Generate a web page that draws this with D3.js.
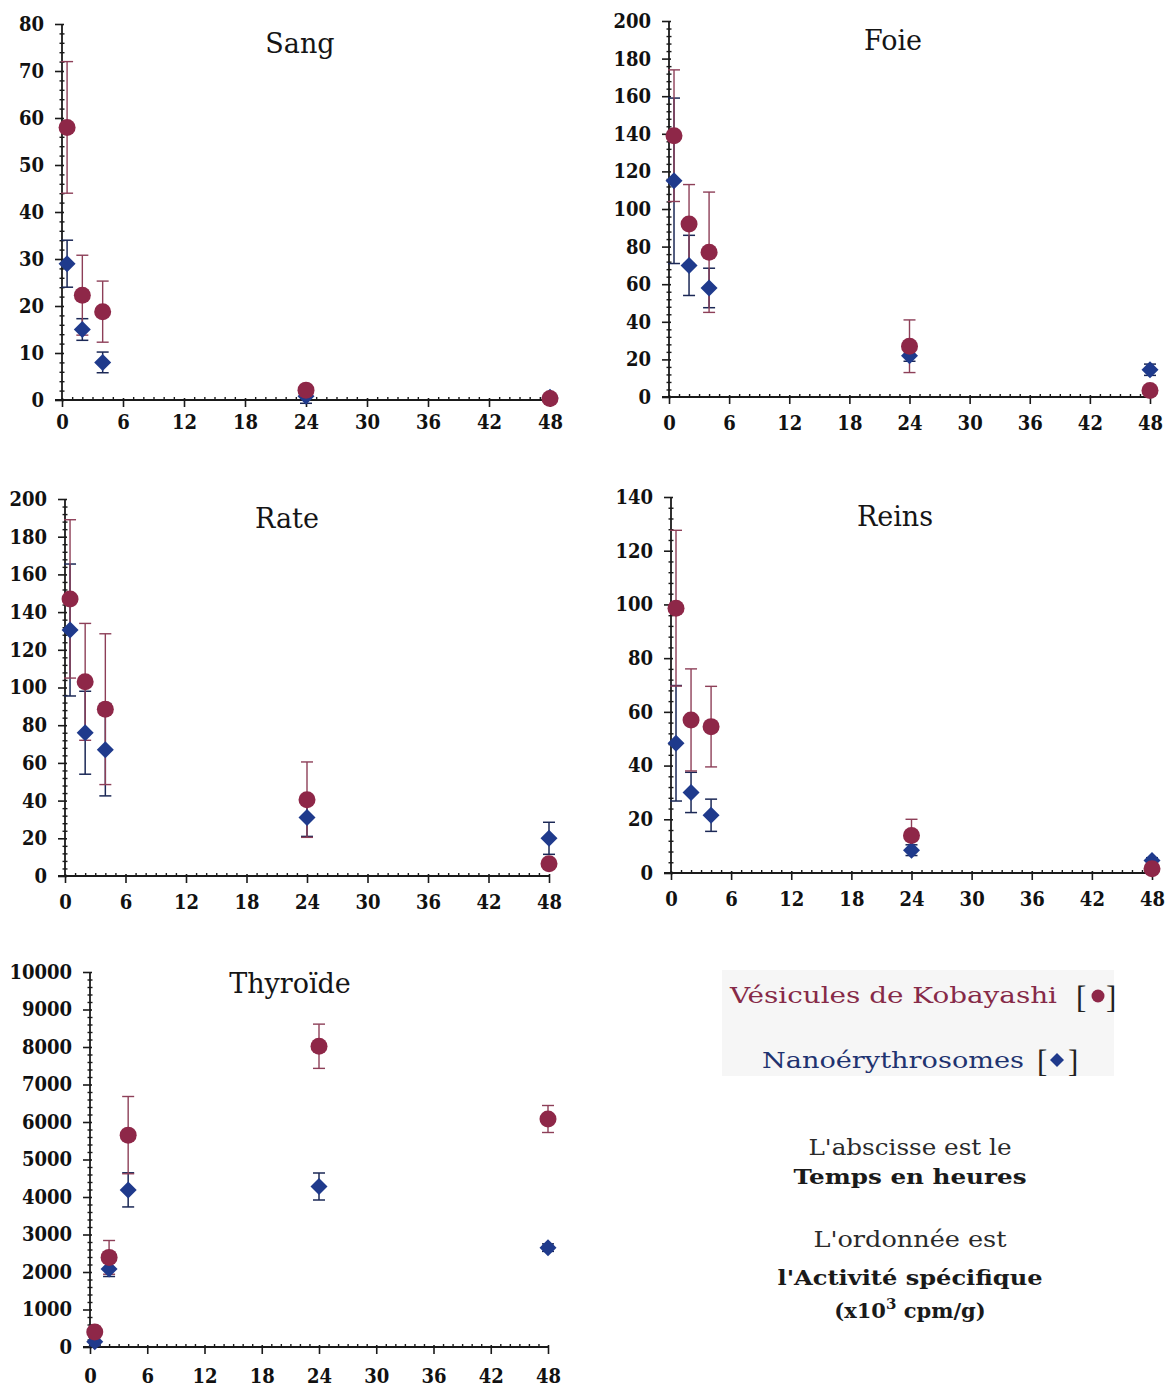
<!DOCTYPE html>
<html lang="fr">
<head>
<meta charset="utf-8">
<title>Biodistribution</title>
<script src="https://cdn.jsdelivr.net/npm/d3@7/dist/d3.min.js"></script>
<style>
  html, body { margin: 0; padding: 0; background: #fff; }
  svg { display: block; }
  .serif { font-family: "Liberation Serif", Tinos, "Times New Roman", Times, serif; }
  .cond { font-family: "DejaVu Serif Condensed", "Liberation Serif", serif; font-stretch: condensed; }
  .wide { font-family: "DejaVu Serif", serif; }
</style>
</head>
<body>
<svg id="chart" width="1171" height="1388"></svg>
<script>
// Sampling times (hours) and organs
const hours = [0.5, 2, 4, 24, 48];
const organs = ["Sang", "Foie", "Rate", "Reins", "Thyroïde"];
const xTicks = [0, 6, 12, 18, 24, 30, 36, 42, 48];
const yMax = [80, 200, 200, 140, 10000];
const yStep = [10, 20, 20, 20, 1000];

// Specific activity (x10^3 cpm/g), mean and error, one row per organ
const kobayashiMean = [
  [58, 22.3, 18.8, 2.1, 0.3],
  [139, 92, 77, 27, 3.5],
  [147, 103, 88.5, 40.5, 6.5],
  [98.6, 57, 54.5, 14, 1.6],
  [400, 2390, 5650, 8020, 6080]
];
const kobayashiErr = [
  [14, 8.5, 6.5, 0.5, 0.2],
  [35, 21, 32, 14, 1],
  [42, 31, 40, 20, 2],
  [29, 19, 15, 6, 1],
  [150, 450, 1030, 590, 360]
];
const nanoMean = [
  [29, 15, 8, 0.8, 0.6],
  [115, 70, 58, 22, 14.5],
  [130.5, 76, 67, 31, 20],
  [48.3, 30, 21.5, 8.5, 4.7],
  [140, 2080, 4190, 4280, 2650]
];
const nanoErr = [
  [5, 2.3, 2.2, 1.5, 0.3],
  [44, 16, 10.5, 3, 3],
  [35, 22, 24.5, 10, 8.5],
  [21.5, 7.5, 6, 2, 1],
  [120, 200, 455, 360, 100]
];

// Panel frames on the page
const panels = [
  { left: 62,  right: 550,  top: 24,  bottom: 400,  tx: 300, ty: 53,  lab: 30 },
  { left: 669, right: 1150, top: 21,  bottom: 397,  tx: 893, ty: 50,  lab: 34 },
  { left: 65,  right: 549,  top: 499, bottom: 876,  tx: 287, ty: 528, lab: 34 },
  { left: 671, right: 1152, top: 497, bottom: 873,  tx: 895, ty: 526, lab: 34 },
  { left: 90,  right: 548,  top: 972, bottom: 1347, tx: 290, ty: 993, lab: 37 }
];

const RED = "#8e2748";
const RED_BAR = "#8d3f58";
const BLUE = "#1f3a8c";
const BLUE_BAR = "#1b2856";
const AXIS = "#1a1a1a";

const svg = d3.select("#chart");

function diamondPath(cx, cy, r) {
  return `M${cx},${cy - r}L${cx + r},${cy}L${cx},${cy + r}L${cx - r},${cy}Z`;
}

function styleTicks(sel) {
  sel.selectAll(".tick text")
    .attr("class", "cond")
    .attr("font-weight", "bold").attr("font-size", 20)
    .attr("fill", "#111");
}

organs.forEach((organ, i) => {
  const p = panels[i];
  const x = d3.scaleLinear().domain([0, 48]).range([p.left, p.right]);
  const y = d3.scaleLinear().domain([0, yMax[i]]).range([p.bottom, p.top]);
  const g = svg.append("g").attr("class", "panel");

  const yMajor = d3.range(0, yMax[i] + yStep[i] / 2, yStep[i]);
  const yMinor = d3.range(0, yMax[i] + 1e-9, yStep[i] / 5).filter(v => !yMajor.some(m => Math.abs(m - v) < 1e-9));
  const xMinor = d3.range(0, 49, 1).filter(v => v % 6 !== 0);

  // minor ticks (both axes)
  const yMin = g.append("g").attr("transform", `translate(${p.left},0)`)
    .call(d3.axisLeft(y).tickValues(yMinor).tickSize(2.5).tickSizeOuter(0).tickFormat(""));
  yMin.select(".domain").remove();
  yMin.selectAll(".tick line").attr("x1", 2.5).attr("stroke", AXIS).attr("stroke-width", 1.4);

  const xMin = g.append("g").attr("transform", `translate(0,${p.bottom})`)
    .call(d3.axisBottom(x).tickValues(xMinor).tickSize(0).tickSizeOuter(0).tickFormat(""));
  xMin.select(".domain").remove();
  xMin.selectAll(".tick line").attr("y1", -3).attr("y2", 0).attr("stroke", AXIS).attr("stroke-width", 1.4);

  // major y axis
  const yAx = g.append("g").attr("transform", `translate(${p.left},0)`)
    .call(d3.axisLeft(y).tickValues(yMajor).tickSize(7).tickSizeOuter(0).tickPadding(11).tickFormat(d3.format("d")));
  yAx.attr("font-family", null);
  yAx.select(".domain").attr("stroke", AXIS).attr("stroke-width", 1.8)
    .attr("d", `M0,${y(yMax[i])}V${y(0)}`);
  yAx.selectAll(".tick line").attr("x1", 2).attr("stroke", AXIS).attr("stroke-width", 1.6);
  styleTicks(yAx);

  // major x axis
  const xAx = g.append("g").attr("transform", `translate(0,${p.bottom})`)
    .call(d3.axisBottom(x).tickValues(xTicks).tickSize(7).tickSizeOuter(0).tickPadding(p.lab - 22).tickFormat(d3.format("d")));
  xAx.attr("font-family", null);
  xAx.select(".domain").attr("stroke", AXIS).attr("stroke-width", 1.8)
    .attr("d", `M${x(0) - 7},0H${x(48)}`);
  xAx.selectAll(".tick line").attr("y1", -2).attr("stroke", AXIS).attr("stroke-width", 1.6);
  styleTicks(xAx);

  // panel title
  g.append("text")
    .attr("class", "wide")
    .attr("x", p.tx).attr("y", p.ty)
    .attr("text-anchor", "middle")
    .attr("font-size", 27)
    .attr("fill", "#151515")
    .text(organ);

  const kob = hours.map((h, k) => ({ h, m: kobayashiMean[i][k], e: kobayashiErr[i][k] }));
  const nano = hours.map((h, k) => ({ h, m: nanoMean[i][k], e: nanoErr[i][k] }));

  // error bars
  function errorBars(data, color, width) {
    const eb = g.append("g");
    eb.selectAll("line.stem").data(data).join("line")
      .attr("x1", d => x(d.h)).attr("x2", d => x(d.h))
      .attr("y1", d => y(d.m - d.e)).attr("y2", d => y(d.m + d.e))
      .attr("stroke", color).attr("stroke-width", width);
    eb.selectAll("line.capT").data(data).join("line")
      .attr("x1", d => x(d.h) - 6).attr("x2", d => x(d.h) + 6)
      .attr("y1", d => y(d.m + d.e)).attr("y2", d => y(d.m + d.e))
      .attr("stroke", color).attr("stroke-width", width);
    eb.selectAll("line.capB").data(data).join("line")
      .attr("x1", d => x(d.h) - 6).attr("x2", d => x(d.h) + 6)
      .attr("y1", d => y(d.m - d.e)).attr("y2", d => y(d.m - d.e))
      .attr("stroke", color).attr("stroke-width", width);
  }
  errorBars(nano, BLUE_BAR, 1.5);
  errorBars(kob, RED_BAR, 1.4);

  // Nanoérythrosomes: diamonds
  g.append("g").selectAll("path").data(nano).join("path")
    .attr("d", d => diamondPath(x(d.h), y(d.m), 8.5))
    .attr("fill", BLUE);

  // Vésicules de Kobayashi: circles
  g.append("g").selectAll("circle").data(kob).join("circle")
    .attr("cx", d => x(d.h)).attr("cy", d => y(d.m)).attr("r", 8.5)
    .attr("fill", RED);
});

// Legend
const lg = svg.append("g").attr("class", "legend");
lg.append("rect").attr("x", 722).attr("y", 970).attr("width", 392).attr("height", 106).attr("fill", "#f6f6f6");
lg.append("text").attr("class", "wide").attr("x", 730).attr("y", 1003)
  .attr("textLength", 327).attr("lengthAdjust", "spacingAndGlyphs")
  .attr("font-size", 23).attr("fill", "#862a48")
  .text("Vésicules de Kobayashi");
lg.append("text").attr("class", "serif").attr("x", 1076).attr("y", 1008)
  .attr("font-size", 31).attr("fill", "#222").text("[");
lg.append("circle").attr("cx", 1098).attr("cy", 996).attr("r", 6.5).attr("fill", RED);
lg.append("text").attr("class", "serif").attr("x", 1106).attr("y", 1008)
  .attr("font-size", 31).attr("fill", "#222").text("]");

lg.append("text").attr("class", "wide").attr("x", 762).attr("y", 1068)
  .attr("textLength", 262).attr("lengthAdjust", "spacingAndGlyphs")
  .attr("font-size", 23).attr("fill", "#1f3370")
  .text("Nanoérythrosomes");
lg.append("text").attr("class", "serif").attr("x", 1037).attr("y", 1072)
  .attr("font-size", 31).attr("fill", "#222").text("[");
lg.append("path").attr("d", diamondPath(1057, 1060, 7)).attr("fill", BLUE);
lg.append("text").attr("class", "serif").attr("x", 1068).attr("y", 1072)
  .attr("font-size", 31).attr("fill", "#222").text("]");

// Axis explanations
const notes = [
  { t: "L'abscisse est le", y: 1155, w: 203, bold: false },
  { t: "Temps en heures", y: 1184, w: 233, bold: true },
  { t: "L'ordonnée est", y: 1247, w: 193, bold: false },
  { t: "l'Activité spécifique", y: 1285, w: 265, bold: true }
];
notes.forEach(n => {
  svg.append("text").attr("class", "wide").attr("x", 910 - n.w / 2).attr("y", n.y)
    .attr("textLength", n.w).attr("lengthAdjust", "spacingAndGlyphs")
    .attr("font-size", n.bold ? 21 : 22)
    .attr("font-weight", n.bold ? "bold" : "200")
    .attr("fill", n.bold ? "#1a1a1a" : "#2a2a2a")
    .text(n.t);
});
const unit = svg.append("text").attr("class", "wide").attr("x", 910).attr("y", 1318).attr("text-anchor", "middle")
  .attr("font-size", 21).attr("font-weight", "bold").attr("fill", "#1a1a1a");
unit.append("tspan").text("(x10");
unit.append("tspan").attr("dy", -9).attr("font-size", 15).text("3");
unit.append("tspan").attr("dy", 9).text(" cpm/g)");
</script>
</body>
</html>
